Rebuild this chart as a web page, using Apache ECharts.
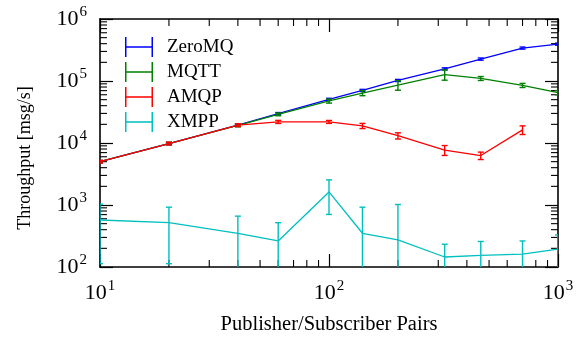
<!DOCTYPE html>
<html>
<head>
<meta charset="utf-8">
<script src="https://cdn.jsdelivr.net/npm/echarts@6/dist/echarts.min.js"></script>
<style>html,body{margin:0;padding:0;background:#fff}#c{width:581px;height:340px}</style>
</head>
<body>
<div id="c"></div>
<script>
// ---- data ----
const pairs = [10, 20, 40, 60, 100, 140, 200, 320, 460, 700, 1000];
const zeromq    = [5000, 9800, 19400, 29800, 50600, 70500, 102000, 157000, 226000, 340000, 393000];
const zeromqErr = [200, 400, 800, 1200, 2000, 2800, 4000, 6000, 9000, 13000, 15000];
const mqtt      = [5000, 9800, 19200, 29000, 47600, 64000, 86000, 127000, 110000, 85000, 65000];
const mqttErr   = [250, 500, 1000, 1500, 3600, 6100, 15000, 24000, 8000, 6500, 5000];
const amqp      = [5000, 9800, 19400, 21900, 21900, 18900, 13100, 7700, 6270, 16300, null];
const amqpErr   = [250, 500, 1000, 1250, 1200, 1800, 1500, 1400, 860, 2600, null];
const xmpp      = [573, 518, 350, 263, 1625, 350, 273, 145, 154, 161, 194];
const xmppErr   = [460, 405, 311, 255, 920, 572, 746, 88, 104, 102, 135];
const seriesNames = ['ZeroMQ', 'MQTT', 'AMQP', 'XMPP'];
const xTickExp = [1, 2, 3];
const yTickExp = [2, 3, 4, 5, 6];

const colors = ['#0000ff', '#008000', '#ff0000', '#00bfbf'];
const FONT = 'Liberation Serif';

const chart = echarts.init(document.getElementById('c'), null, {renderer: 'canvas'});

function pts(vals) { return pairs.map((x, i) => vals[i] == null ? null : [x, vals[i]]).filter(d => d); }
function errPts(vals, errs) { return pairs.map((x, i) => vals[i] == null ? null : [x, vals[i], errs[i]]).filter(d => d); }

function errRender(color) {
  return function (params, api) {
    const x = api.value(0), v = api.value(1), e = api.value(2);
    const hi = api.coord([x, v + e]);
    const lo = api.coord([x, Math.max(v - e, 1e-3)]);
    const w = 3;
    const st = {stroke: color, lineWidth: 1.4};
    return {type: 'group', children: [
      {type: 'line', shape: {x1: hi[0], y1: hi[1], x2: lo[0], y2: lo[1]}, style: st},
      {type: 'line', shape: {x1: hi[0] - w, y1: hi[1], x2: hi[0] + w, y2: hi[1]}, style: st},
      {type: 'line', shape: {x1: lo[0] - w, y1: lo[1], x2: lo[0] + w, y2: lo[1]}, style: st}
    ]};
  };
}

const expFmt = v => '{b|10}{s|' + Math.round(Math.log10(v)) + '}';
const richLbl = {
  b: {fontFamily: FONT, fontSize: 22, color: '#000'},
  s: {fontFamily: FONT, fontSize: 15, color: '#000', padding: [0, 0, 13, 1]}
};

const values = [zeromq, mqtt, amqp, xmpp];
const errs = [zeromqErr, mqttErr, amqpErr, xmppErr];
const series = [];
seriesNames.forEach((n, k) => {
  series.push({name: n, type: 'line', data: pts(values[k]), showSymbol: false, symbol: 'none',
    lineStyle: {color: colors[k], width: 1.3}, itemStyle: {color: colors[k]}, z: 3 + k, clip: true});
  series.push({name: n, type: 'custom', data: errPts(values[k], errs[k]), renderItem: errRender(colors[k]),
    itemStyle: {color: colors[k]}, z: 3 + k, clip: true});
});

const baseAxis = {
  type: 'log', logBase: 10,
  axisLine: {lineStyle: {color: '#000', width: 1.6}},
  axisTick: {inside: true, length: 13, lineStyle: {color: '#000', width: 1.2}},
  splitLine: {show: false}
};

chart.setOption({
  animation: false,
  textStyle: {fontFamily: FONT},
  grid: {left: 100, right: 23, top: 19, bottom: 71},
  legend: {
    data: seriesNames, orient: 'vertical', left: 120, top: 32,
    itemWidth: 28, itemHeight: 20, itemGap: 5,
    icon: 'path://M0,0h1.5v20h-1.5zM0,9.3h28v1.4h-28zM26.5,0h1.5v20h-1.5z',
    textStyle: {fontFamily: FONT, fontSize: 19, color: '#000', padding: [0, 0, 0, 9]},
    selectedMode: false
  },
  xAxis: [
    Object.assign({}, baseAxis, {position: 'bottom', min: 10, max: 1000, interval: 1,
      name: 'Publisher/Subscriber Pairs', nameLocation: 'middle', nameGap: 47,
      nameTextStyle: {fontFamily: FONT, fontSize: 20.5, color: '#000'},
      axisLabel: {formatter: expFmt, rich: richLbl, margin: 12}}),
    Object.assign({}, baseAxis, {position: 'top', min: 10, max: 1000, interval: 1, axisLabel: {show: false}})
  ],
  yAxis: [
    Object.assign({}, baseAxis, {position: 'left', min: 100, max: 1e6, interval: 1,
      name: 'Throughput [msg/s]', nameLocation: 'middle', nameGap: 66, nameRotate: 90,
      nameTextStyle: {fontFamily: FONT, fontSize: 18, color: '#000', padding: [0, 30, 0, 0]},
      axisLabel: {formatter: expFmt, rich: richLbl, margin: 13}}),
    Object.assign({}, baseAxis, {position: 'right', min: 100, max: 1e6, interval: 1, axisLabel: {show: false}})
  ],
  series: series
});

// minor ticks (2..9 x 10^k) placed through the axes' own scales
function drawMinor() {
  const g = [];
  const st = {stroke: '#000', lineWidth: 1.1};
  const L = 7;
  const yb = chart.convertToPixel({yAxisIndex: 0}, 100);
  const yt = chart.convertToPixel({yAxisIndex: 0}, 1e6);
  const xl = chart.convertToPixel({xAxisIndex: 0}, 10);
  const xr = chart.convertToPixel({xAxisIndex: 0}, 1000);
  for (let e = xTickExp[0]; e < xTickExp[xTickExp.length - 1]; e++) {
    for (let m = 2; m <= 9; m++) {
      const px = chart.convertToPixel({xAxisIndex: 0}, m * Math.pow(10, e));
      g.push({type: 'line', shape: {x1: px, y1: yb, x2: px, y2: yb - L}, style: st, silent: true});
      g.push({type: 'line', shape: {x1: px, y1: yt, x2: px, y2: yt + L}, style: st, silent: true});
    }
  }
  for (let e = yTickExp[0]; e < yTickExp[yTickExp.length - 1]; e++) {
    for (let m = 2; m <= 9; m++) {
      const py = chart.convertToPixel({yAxisIndex: 0}, m * Math.pow(10, e));
      g.push({type: 'line', shape: {x1: xl, y1: py, x2: xl + L, y2: py}, style: st, silent: true});
      g.push({type: 'line', shape: {x1: xr, y1: py, x2: xr - L, y2: py}, style: st, silent: true});
    }
  }
  chart.setOption({graphic: g});
}
drawMinor();
</script>
</body>
</html>
